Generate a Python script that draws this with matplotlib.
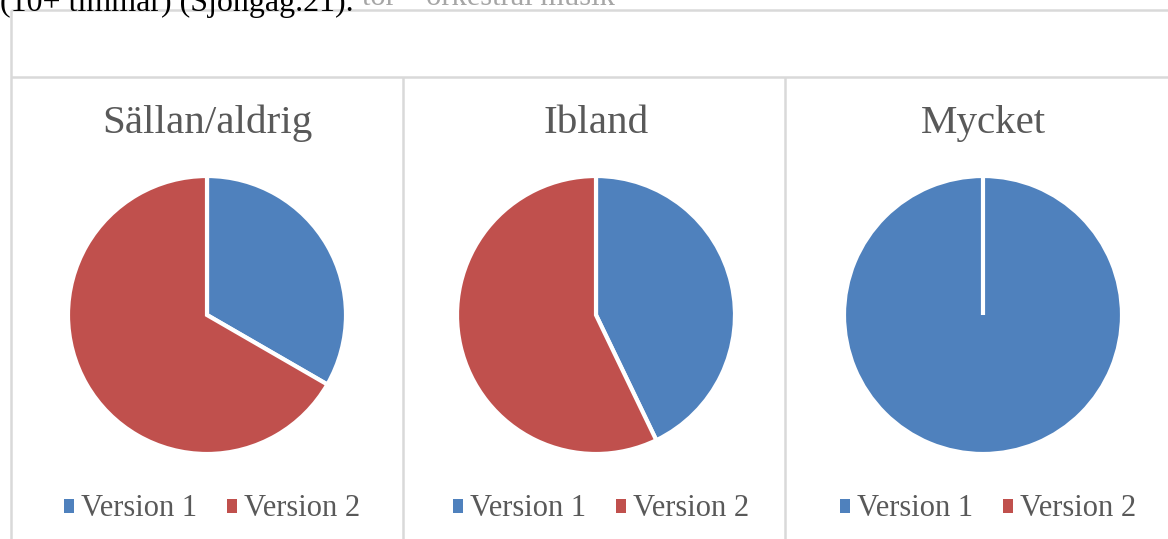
import matplotlib
matplotlib.use("Agg")
import matplotlib.pyplot as plt
from matplotlib.patches import Patch

# Canvas size in pixels
W, H = 1168, 539
DPI = 100

# Data
panel_titles = ["Sällan/aldrig", "Ibland", "Mycket"]
series_labels = ["Version 1", "Version 2"]
sallan_values = [1, 2]
ibland_values = [3, 4]
mycket_values = [2, 0]
series_colors = ["#4f81bd", "#c0504d"]

plt.rcParams['font.family'] = ['Liberation Serif', 'DejaVu Serif']

fig = plt.figure(figsize=(W / DPI, H / DPI), dpi=DPI)
fig.patch.set_facecolor("white")

# Full-figure overlay in pixel coordinates for frame lines and text
bg = fig.add_axes([0, 0, 1, 1])
bg.set_xlim(0, W)
bg.set_ylim(H, 0)
bg.axis("off")

# Caption text running above the chart frame
bg.text(0, 11, "(10+ timmar) (Sjöngag.21).", fontsize=23, color="black",
        va="baseline", ha="left", zorder=3)
bg.text(615, 5, "tor – orkestral musik", fontsize=22, color="#a6a6a6",
        va="baseline", ha="right", zorder=2)

# Chart frame and panel dividers
frame = dict(color="#d9d9d9", lw=1.8, solid_capstyle="butt", zorder=1)
left, top, header_bottom = 11, 10, 77
dividers = [403, 785]
bg.plot([left, W], [top, top], **frame)
bg.plot([left, W], [header_bottom, header_bottom], **frame)
bg.plot([left, left], [top, H], **frame)
for x in dividers:
    bg.plot([x, x], [header_bottom, H], **frame)

panel_values = [sallan_values, ibland_values, mycket_values]
centers_x = [207, 596, 983]
center_y = 315
radius_px = 139
title_baseline = 133
legend_center_y = 509
legend_offset_x = 5

legend_handles = [Patch(facecolor=c, edgecolor="none") for c in series_colors]

for title, values, cx in zip(panel_titles, panel_values, centers_x):
    ax = fig.add_axes([(cx - radius_px) / W, (H - center_y - radius_px) / H,
                       2 * radius_px / W, 2 * radius_px / H])
    ax.pie(values, colors=series_colors, startangle=90, counterclock=False,
           radius=1.0,
           wedgeprops=dict(edgecolor="white", linewidth=3.0,
                           joinstyle="miter"))
    ax.set_xlim(-1.0, 1.0)
    ax.set_ylim(-1.0, 1.0)
    ax.set_aspect("equal")
    ax.axis("off")

    bg.text(cx, title_baseline, title, fontsize=29.5, color="#595959",
            ha="center", va="baseline")

    fig.legend(legend_handles, series_labels, loc="center",
               bbox_to_anchor=((cx + legend_offset_x) / W,
                               1 - legend_center_y / H),
               ncol=2, frameon=False, fontsize=22,
               handlelength=0.33, handleheight=0.33,
               handletextpad=0.22, columnspacing=1.0,
               labelcolor="#595959", borderpad=0, borderaxespad=0)

fig.savefig("out.png", dpi=DPI, facecolor="white")
